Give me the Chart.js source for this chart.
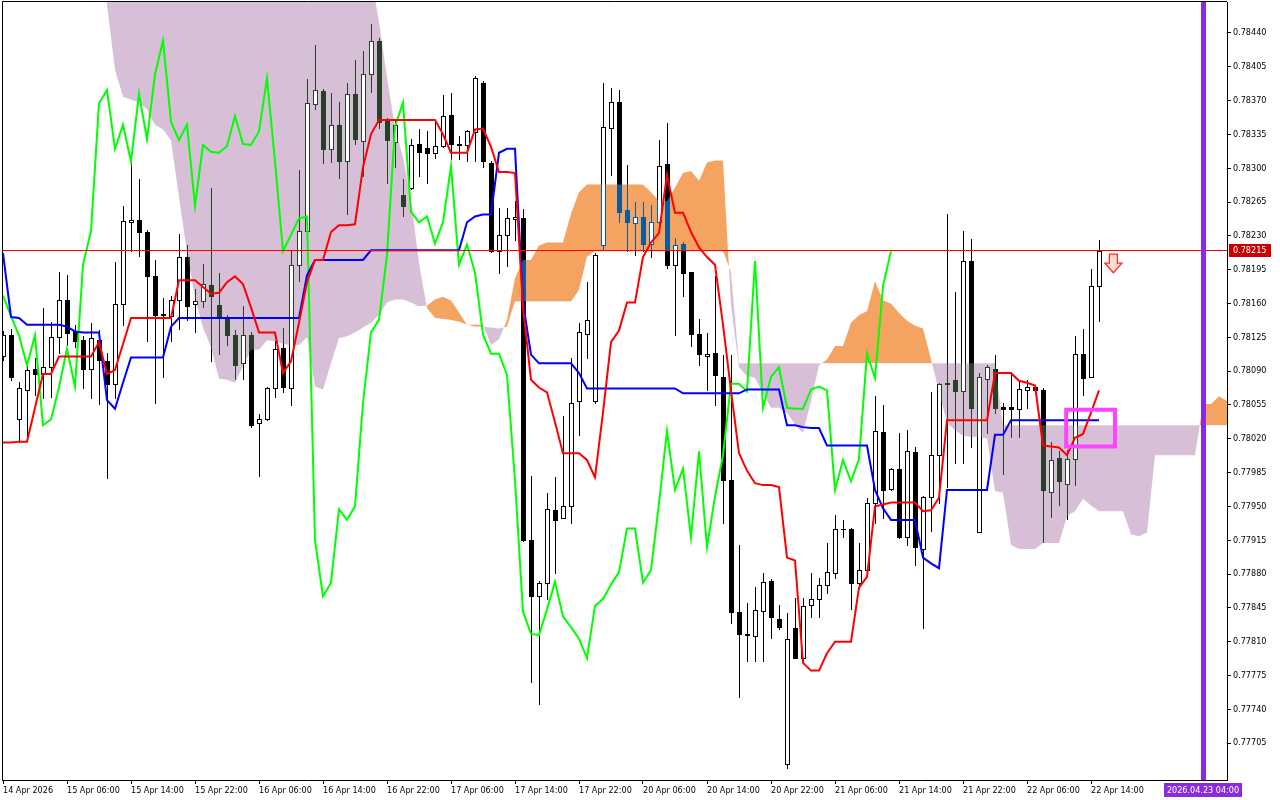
<!DOCTYPE html>
<html>
<head>
<meta charset="utf-8">
<title>AUDUSD-like H1 Ichimoku</title>
<script src="https://cdn.jsdelivr.net/npm/chart.js@4.4.1/dist/chart.umd.min.js"></script>
<style>
  html, body { margin: 0; padding: 0; background: #fff; }
  #wrap { width: 1280px; height: 800px; }
</style>
</head>
<body>
<div id="wrap"><canvas id="chart" width="1280" height="800"></canvas></div>
<script>
// ── Price bars (H1), bar 0 = 14 Apr 22:00 ────────────────────────────────
const opens = [
  0.78106,0.78127,0.78040,0.78070,0.78092,0.78087,0.78094,0.78125,0.78164,0.78131,
  0.78122,0.78092,0.78122,0.78100,0.78077,0.78159,0.78244,0.78246,0.78234,0.78188,
  0.78148,0.78147,0.78164,0.78208,0.78159,0.78163,0.78179,0.78158,0.78144,0.78127,
  0.78098,0.78127,0.78036,0.78040,0.78073,0.78114,0.78073,0.78200,0.78235,0.78366,
  0.78380,0.78320,0.78345,0.78307,0.78377,0.78328,0.78397,0.78432,0.78349,0.78327,
  0.78272,0.78280,0.78325,0.78321,0.78316,0.78323,0.78355,0.78325,0.78324,0.78337,
  0.78388,0.78305,0.78214,0.78231,0.78247,0.78248,0.77915,0.77857,0.77871,0.77946,
  0.77938,0.77950,0.78059,0.78128,0.78059,0.78221,0.78342,0.78368,0.78257,0.78243,
  0.78250,0.78222,0.78244,0.78304,0.78200,0.78222,0.78193,0.78128,0.78106,0.78109,
  0.78084,0.77977,0.77841,0.77818,0.77816,0.77842,0.77873,0.77833,0.77683,0.77824,
  0.77793,0.77848,0.77854,0.77869,0.77881,0.77927,0.77927,0.77871,0.77884,0.77953,
  0.78027,0.77968,0.77989,0.77918,0.78006,0.77906,0.77960,0.78003,0.78078,0.78081,
  0.78069,0.78204,0.77923,0.78082,0.78092,0.78053,0.78053,0.78051,0.78070,0.78074,
  0.78070,0.77965,0.78000,0.77973,0.77999,0.78108,0.78084,0.78178
];
const highs = [
  0.78132,0.78134,0.78079,0.78098,0.78104,0.78155,0.78141,0.78193,0.78189,0.78138,
  0.78126,0.78140,0.78133,0.78109,0.78203,0.78261,0.78307,0.78289,0.78236,0.78205,
  0.78166,0.78168,0.78232,0.78220,0.78175,0.78201,0.78279,0.78192,0.78148,0.78133,
  0.78157,0.78130,0.78046,0.78074,0.78121,0.78135,0.78214,0.78298,0.78392,0.78428,
  0.78382,0.78378,0.78369,0.78388,0.78412,0.78421,0.78449,0.78435,0.78352,0.78349,
  0.78289,0.78330,0.78341,0.78338,0.78348,0.78376,0.78378,0.78333,0.78340,0.78395,
  0.78390,0.78307,0.78259,0.78259,0.78266,0.78258,0.77981,0.77873,0.77964,0.77980,
  0.78044,0.78104,0.78140,0.78182,0.78212,0.78388,0.78383,0.78381,0.78303,0.78265,
  0.78265,0.78262,0.78329,0.78347,0.78228,0.78224,0.78193,0.78144,0.78129,0.78188,
  0.78107,0.78107,0.77910,0.77850,0.77867,0.77881,0.77875,0.77848,0.77840,0.77855,
  0.77855,0.77881,0.77876,0.77912,0.77941,0.77936,0.77928,0.77912,0.77959,0.78064,
  0.78055,0.77990,0.78026,0.78029,0.78011,0.77961,0.78068,0.78078,0.78253,0.78172,
  0.78235,0.78227,0.78088,0.78096,0.78107,0.78057,0.78089,0.78079,0.78081,0.78075,
  0.78072,0.78017,0.78007,0.78008,0.78126,0.78134,0.78196,0.78226
];
const lows = [
  0.78101,0.78081,0.78017,0.78021,0.78065,0.78062,0.78063,0.78109,0.78117,0.78115,
  0.78073,0.78062,0.78056,0.77979,0.78062,0.78138,0.78214,0.78209,0.78121,0.78057,
  0.78084,0.78121,0.78134,0.78143,0.78130,0.78156,0.78100,0.78108,0.78117,0.78082,
  0.78082,0.78032,0.77981,0.78039,0.78063,0.78068,0.78055,0.78183,0.78228,0.78361,
  0.78305,0.78306,0.78290,0.78253,0.78325,0.78292,0.78379,0.78342,0.78285,0.78301,
  0.78251,0.78278,0.78292,0.78285,0.78311,0.78322,0.78310,0.78310,0.78307,0.78307,
  0.78301,0.78213,0.78192,0.78199,0.78226,0.77914,0.77768,0.77745,0.77854,0.77881,
  0.77938,0.77933,0.78024,0.78104,0.78057,0.78215,0.78293,0.78244,0.78214,0.78210,
  0.78214,0.78208,0.78239,0.78197,0.78127,0.78168,0.78116,0.78096,0.78070,0.78055,
  0.77933,0.77829,0.77753,0.77790,0.77790,0.77790,0.77814,0.77823,0.77679,0.77793,
  0.77789,0.77835,0.77835,0.77860,0.77876,0.77918,0.77844,0.77866,0.77882,0.77933,
  0.77938,0.77967,0.77917,0.77910,0.77889,0.77824,0.77924,0.77954,0.77970,0.77995,
  0.77995,0.78011,0.77923,0.78026,0.78047,0.77984,0.78022,0.78022,0.78052,0.78069,
  0.77913,0.77939,0.77951,0.77937,0.77972,0.78065,0.78084,0.78142
];
const closes = [
  0.78127,0.78084,0.78072,0.78091,0.78087,0.78094,0.78125,0.78164,0.78129,0.78121,
  0.78092,0.78124,0.78101,0.78077,0.78159,0.78245,0.78246,0.78234,0.78188,0.78148,
  0.78149,0.78164,0.78208,0.78157,0.78163,0.78180,0.78168,0.78147,0.78127,0.78096,
  0.78127,0.78034,0.78040,0.78073,0.78113,0.78074,0.78200,0.78235,0.78367,0.78381,
  0.78320,0.78345,0.78307,0.78377,0.78330,0.78397,0.78432,0.78348,0.78329,0.78345,
  0.78261,0.78324,0.78317,0.78316,0.78323,0.78354,0.78325,0.78324,0.78338,0.78393,
  0.78307,0.78214,0.78231,0.78248,0.78250,0.77915,0.77857,0.77871,0.77947,0.77936,
  0.77950,0.78057,0.78130,0.78143,0.78210,0.78343,0.78368,0.78255,0.78244,0.78250,
  0.78222,0.78244,0.78302,0.78200,0.78221,0.78192,0.78128,0.78108,0.78108,0.78086,
  0.77977,0.77841,0.77818,0.77817,0.77843,0.77872,0.77836,0.77825,0.77813,0.77793,
  0.77847,0.77854,0.77869,0.77882,0.77927,0.77927,0.77871,0.77884,0.77953,0.78028,
  0.77967,0.77989,0.77918,0.78007,0.77908,0.77960,0.78003,0.78077,0.78077,0.78069,
  0.78204,0.78052,0.78084,0.78094,0.78052,0.78051,0.78051,0.78071,0.78074,0.78070,
  0.77967,0.77998,0.77976,0.77999,0.78108,0.78083,0.78178,0.78214
];

// ── Ichimoku lines ────────────────────────────────────────────────────────
const tenkan = [
  0.78016,0.78016,0.78017,0.78017,0.78052,0.78087,0.78087,0.78105,0.78105,0.78105,
  0.78105,0.78105,0.78120,0.78087,0.78091,0.78118,0.78145,0.78145,0.78145,0.78145,
  0.78145,0.78145,0.78184,0.78184,0.78184,0.78177,0.78170,0.78171,0.78182,0.78188,
  0.78180,0.78156,0.78130,0.78130,0.78130,0.78088,0.78100,0.78140,0.78182,0.78205,
  0.78205,0.78234,0.78241,0.78241,0.78242,0.78301,0.78335,0.78350,0.78350,0.78350,
  0.78350,0.78350,0.78350,0.78350,0.78350,0.78335,0.78316,0.78316,0.78316,0.78340,
  0.78341,0.78322,0.78296,0.78296,0.78295,0.78156,0.78081,0.78073,0.78068,0.78037,
  0.78005,0.78005,0.78005,0.77998,0.77980,0.78047,0.78120,0.78132,0.78161,0.78161,
  0.78208,0.78223,0.78233,0.78293,0.78254,0.78254,0.78234,0.78218,0.78208,0.78200,
  0.78138,0.78070,0.78005,0.77987,0.77974,0.77972,0.77972,0.77970,0.77897,0.77894,
  0.77788,0.77780,0.77780,0.77798,0.77810,0.77810,0.77810,0.77866,0.77877,0.77950,
  0.77952,0.77954,0.77954,0.77954,0.77954,0.77945,0.77946,0.77959,0.78039,0.78039,
  0.78039,0.78039,0.78039,0.78039,0.78088,0.78088,0.78088,0.78080,0.78078,0.78075,
  0.78013,0.78012,0.78011,0.78003,0.78021,0.78025,0.78047,0.78070
];
const kijun = [
  0.78212,0.78146,0.78145,0.78138,0.78138,0.78138,0.78138,0.78138,0.78136,0.78131,
  0.78130,0.78130,0.78130,0.78060,0.78051,0.78078,0.78104,0.78104,0.78104,0.78104,
  0.78104,0.78136,0.78145,0.78145,0.78145,0.78145,0.78145,0.78145,0.78145,0.78145,
  0.78145,0.78145,0.78145,0.78145,0.78145,0.78145,0.78145,0.78145,0.78189,0.78205,
  0.78205,0.78205,0.78205,0.78205,0.78205,0.78205,0.78215,0.78215,0.78215,0.78215,
  0.78215,0.78215,0.78215,0.78215,0.78215,0.78215,0.78215,0.78215,0.78244,0.78250,
  0.78252,0.78252,0.78316,0.78320,0.78320,0.78161,0.78107,0.78098,0.78098,0.78098,
  0.78098,0.78098,0.78088,0.78072,0.78072,0.78072,0.78072,0.78072,0.78072,0.78072,
  0.78072,0.78072,0.78072,0.78072,0.78072,0.78067,0.78067,0.78067,0.78067,0.78067,
  0.78067,0.78067,0.78067,0.78071,0.78071,0.78071,0.78071,0.78071,0.78034,0.78034,
  0.78032,0.78031,0.78031,0.78013,0.78013,0.78013,0.78013,0.78013,0.78013,0.77967,
  0.77948,0.77936,0.77936,0.77936,0.77936,0.77897,0.77891,0.77886,0.77967,0.77967,
  0.77967,0.77967,0.77967,0.77967,0.78024,0.78024,0.78039,0.78039,0.78039,0.78039,
  0.78039,0.78039,0.78039,0.78039,0.78039,0.78039,0.78039,0.78039
];
// lagging span, starts at bar 0
const chikou = [
  0.78168,0.78147,0.78127,0.78096,0.78127,0.78034,0.78040,0.78073,0.78113,0.78074,
  0.78200,0.78235,0.78367,0.78381,0.78320,0.78345,0.78307,0.78377,0.78330,0.78397,
  0.78432,0.78348,0.78329,0.78345,0.78261,0.78324,0.78317,0.78316,0.78323,0.78354,
  0.78325,0.78324,0.78338,0.78393,0.78307,0.78214,0.78231,0.78248,0.78250,0.77915,
  0.77857,0.77871,0.77947,0.77936,0.77950,0.78057,0.78130,0.78143,0.78210,0.78343,
  0.78368,0.78255,0.78244,0.78250,0.78222,0.78244,0.78302,0.78200,0.78221,0.78192,
  0.78128,0.78108,0.78108,0.78086,0.77977,0.77841,0.77818,0.77817,0.77843,0.77872,
  0.77836,0.77825,0.77813,0.77793,0.77847,0.77854,0.77869,0.77882,0.77927,0.77927,
  0.77871,0.77884,0.77953,0.78028,0.77967,0.77989,0.77918,0.78007,0.77908,0.77960,
  0.78003,0.78077,0.78077,0.78069,0.78204,0.78052,0.78084,0.78094,0.78052,0.78051,
  0.78051,0.78071,0.78074,0.78070,0.77967,0.77998,0.77976,0.77999,0.78108,0.78083,
  0.78178,0.78214
];
// cloud edges, bars 0..153 (null = off the left of the cloud)
const spanA = [
  null,null,null,null,null,null,null,null,null,null,
  null,null,null,0.78469,0.78402,0.78374,0.78371,0.78368,0.78361,0.78345,
  0.78340,0.78329,0.78270,0.78213,0.78166,0.78135,0.78115,0.78082,0.78081,0.78078,
  0.78095,0.78112,0.78112,0.78122,0.78121,0.78118,0.78117,0.78117,0.78125,0.78074,
  0.78071,0.78098,0.78124,0.78126,0.78130,0.78135,0.78140,0.78148,0.78161,0.78164,
  0.78164,0.78161,0.78157,0.78158,0.78164,0.78167,0.78163,0.78151,0.78138,0.78138,
  0.78138,0.78117,0.78123,0.78143,0.78186,0.78205,0.78205,0.78220,0.78223,0.78223,
  0.78223,0.78253,0.78275,0.78283,0.78283,0.78283,0.78283,0.78283,0.78283,0.78283,
  0.78283,0.78275,0.78266,0.78266,0.78280,0.78295,0.78297,0.78287,0.78306,0.78308,
  0.78308,0.78158,0.78094,0.78085,0.78083,0.78067,0.78052,0.78052,0.78047,0.78035,
  0.78026,0.78059,0.78096,0.78102,0.78116,0.78116,0.78140,0.78148,0.78152,0.78183,
  0.78163,0.78160,0.78150,0.78142,0.78137,0.78134,0.78102,0.78069,0.78036,0.78029,
  0.78023,0.78022,0.78022,0.78020,0.77966,0.77964,0.77910,0.77906,0.77906,0.77906,
  0.77912,0.77912,0.77912,0.77940,0.77945,0.77958,0.77951,0.77945,0.77945,0.77945,
  0.77945,0.77921,0.77919,0.77923,0.78003,0.78003,0.78003,0.78003,0.78003,0.78003,
  0.78056,0.78056,0.78064,0.78059
];
const spanB = [
  null,null,null,null,null,null,null,null,null,null,
  null,null,null,0.78500,0.78500,0.78500,0.78500,0.78500,0.78500,0.78500,
  0.78500,0.78500,0.78500,0.78500,0.78500,0.78500,0.78500,0.78500,0.78500,0.78500,
  0.78500,0.78500,0.78500,0.78500,0.78500,0.78500,0.78500,0.78500,0.78500,0.78500,
  0.78500,0.78500,0.78500,0.78500,0.78500,0.78500,0.78500,0.78451,0.78394,0.78342,
  0.78311,0.78267,0.78202,0.78155,0.78145,0.78144,0.78143,0.78141,0.78138,0.78136,
  0.78136,0.78135,0.78134,0.78136,0.78162,0.78162,0.78162,0.78162,0.78162,0.78162,
  0.78162,0.78162,0.78174,0.78208,0.78214,0.78214,0.78214,0.78214,0.78214,0.78214,
  0.78214,0.78214,0.78214,0.78214,0.78214,0.78214,0.78214,0.78214,0.78214,0.78214,
  0.78214,0.78192,0.78098,0.78098,0.78098,0.78098,0.78098,0.78098,0.78098,0.78098,
  0.78098,0.78098,0.78098,0.78098,0.78098,0.78098,0.78098,0.78098,0.78098,0.78098,
  0.78098,0.78098,0.78098,0.78098,0.78098,0.78098,0.78098,0.78098,0.78098,0.78098,
  0.78098,0.78098,0.78098,0.78098,0.78098,0.78034,0.78034,0.78034,0.78034,0.78034,
  0.78034,0.78034,0.78034,0.78034,0.78034,0.78034,0.78034,0.78034,0.78034,0.78034,
  0.78034,0.78034,0.78034,0.78034,0.78034,0.78034,0.78034,0.78034,0.78034,0.78034,
  0.78034,0.78034,0.78034,0.78034
];

// ── Axis labels ───────────────────────────────────────────────────────────
const priceTicks = [
  0.78440,0.78405,0.78370,0.78335,0.78300,0.78265,0.78230,0.78195,0.78160,0.78125,0.78090,
  0.78055,0.78020,0.77985,0.77950,0.77915,0.77880,0.77845,0.77810,0.77775,0.77740,0.77705
];
const timeTickBars = [0,8,16,24,32,40,48,56,64,72,80,88,96,104,112,120,128,136];
const timeTickLabels = [
  '14 Apr 2026','15 Apr 06:00','15 Apr 14:00','15 Apr 22:00','16 Apr 06:00','16 Apr 14:00',
  '16 Apr 22:00','17 Apr 06:00','17 Apr 14:00','17 Apr 22:00','20 Apr 06:00','20 Apr 14:00',
  '20 Apr 22:00','21 Apr 06:00','21 Apr 14:00','21 Apr 22:00','22 Apr 06:00','22 Apr 14:00'
];

// ── Chart objects ─────────────────────────────────────────────────────────
const bidPrice = 0.78215;
const futureBar = 150;
const futureLabel = '2026.04.23 04:00';
const zoneBox = { fromBar: 132.9, toBar: 139.0, top: 0.78050, bottom: 0.78012 };
const sellArrow = { bar: 138.8, price: 0.78211 };

const FONT = '"DejaVu Sans Condensed", "DejaVu Sans", sans-serif';
const THISTLE = '#d8bfd8';
const SANDY = '#f4a460';

const pts = arr => arr.map((v, i) => ({ x: i, y: v }));

// ── Drawing helpers ───────────────────────────────────────────────────────
function clipArea(ctx, a) {
  ctx.beginPath();
  ctx.rect(a.left, a.top, a.right - a.left, a.bottom - a.top);
  ctx.clip();
}

function drawCandles(chart) {
  const { ctx, chartArea: a, scales: { x, y } } = chart;
  ctx.save();
  clipArea(ctx, a);
  // MT draws bar outlines inverted over the cloud
  ctx.globalCompositeOperation = 'difference';
  ctx.fillStyle = '#ffffff';
  const bullFill = [];
  for (let i = 0; i < closes.length; i++) {
    const cx = Math.round(x.getPixelForValue(i));
    const yo = Math.round(y.getPixelForValue(opens[i]));
    const yc = Math.round(y.getPixelForValue(closes[i]));
    const yh = Math.round(y.getPixelForValue(highs[i]));
    const yl = Math.round(y.getPixelForValue(lows[i]));
    const top = Math.min(yo, yc), bot = Math.max(yo, yc);
    if (top > yh) ctx.fillRect(cx, yh, 1, top - yh);
    if (yl > bot) ctx.fillRect(cx, bot + 1, 1, yl - bot);
    if (closes[i] > opens[i] && bot - top >= 2) {
      ctx.fillRect(cx - 2, top, 5, 1);
      ctx.fillRect(cx - 2, bot, 5, 1);
      ctx.fillRect(cx - 2, top + 1, 1, bot - top - 1);
      ctx.fillRect(cx + 2, top + 1, 1, bot - top - 1);
      bullFill.push([cx - 1, top + 1, 3, bot - top - 1]);
    } else {
      ctx.fillRect(cx - 2, top, 5, bot - top + 1);
    }
  }
  ctx.globalCompositeOperation = 'source-over';
  ctx.fillStyle = '#ffffff';
  bullFill.forEach(r => ctx.fillRect(r[0], r[1], r[2], r[3]));
  ctx.restore();
}

function drawObjects(chart) {
  const { ctx, chartArea: a, scales: { x, y } } = chart;
  ctx.save();
  clipArea(ctx, a);
  ctx.globalCompositeOperation = 'source-over';

  // bid line
  const yb = Math.round(y.getPixelForValue(bidPrice));
  ctx.fillStyle = '#ff0000';
  ctx.fillRect(a.left, yb, a.right - a.left, 1);

  // zone rectangle
  const x1 = x.getPixelForValue(zoneBox.fromBar), x2 = x.getPixelForValue(zoneBox.toBar);
  const y1 = y.getPixelForValue(zoneBox.top), y2 = y.getPixelForValue(zoneBox.bottom);
  ctx.strokeStyle = '#ff44ff';
  ctx.lineWidth = 4;
  ctx.strokeRect(x1, y1, x2 - x1, y2 - y1);

  // sell arrow
  const ax = x.getPixelForValue(sellArrow.bar), ay = y.getPixelForValue(sellArrow.price);
  ctx.beginPath();
  ctx.moveTo(ax - 4, ay);
  ctx.lineTo(ax + 4, ay);
  ctx.lineTo(ax + 4, ay + 9);
  ctx.lineTo(ax + 8.5, ay + 9);
  ctx.lineTo(ax, ay + 18.5);
  ctx.lineTo(ax - 8.5, ay + 9);
  ctx.lineTo(ax - 4, ay + 9);
  ctx.closePath();
  ctx.fillStyle = '#ffe0d0';
  ctx.fill();
  ctx.strokeStyle = '#ff2a2a';
  ctx.lineWidth = 1.3;
  ctx.stroke();

  // future time marker
  const vx = x.getPixelForValue(futureBar);
  ctx.fillStyle = '#8a2be2';
  ctx.fillRect(Math.round(vx) - 2, a.top, 5, a.bottom - a.top);
  ctx.restore();
}

function drawFrameAndTags(chart) {
  const { ctx, chartArea: a, scales: { x, y } } = chart;
  ctx.save();
  ctx.globalCompositeOperation = 'source-over';
  ctx.strokeStyle = '#000000';
  ctx.lineWidth = 1;
  ctx.beginPath();
  ctx.moveTo(a.left + 0.5, a.bottom);
  ctx.lineTo(a.left + 0.5, a.top - 0.5);
  ctx.lineTo(a.right, a.top - 0.5);
  ctx.stroke();

  // bid price tag
  const yb = Math.round(y.getPixelForValue(bidPrice));
  ctx.fillStyle = '#cc0000';
  ctx.fillRect(a.right + 2, yb - 6, 42, 13);
  ctx.fillStyle = '#ffffff';
  ctx.font = '9px ' + FONT;
  ctx.textBaseline = 'middle';
  ctx.textAlign = 'left';
  ctx.fillText(bidPrice.toFixed(5), a.right + 6, yb + 1);

  // future time tag
  const vx = Math.round(x.getPixelForValue(futureBar));
  ctx.fillStyle = '#8a2be2';
  ctx.fillRect(vx - 39, a.bottom + 3, 78, 14);
  ctx.fillStyle = '#ffffff';
  ctx.textAlign = 'center';
  ctx.fillText(futureLabel, vx, a.bottom + 10.5);
  ctx.restore();
}

const mtPlugin = {
  id: 'mtPlugin',
  beforeDraw(chart) {
    const { ctx, width, height } = chart;
    ctx.save();
    ctx.fillStyle = '#ffffff';
    ctx.fillRect(0, 0, width, height);
    ctx.restore();
  },
  beforeDatasetsDraw(chart) {
    drawCandles(chart);
  },
  afterDatasetsDraw(chart) {
    drawObjects(chart);
  },
  afterDraw(chart) {
    drawFrameAndTags(chart);
  }
};

Chart.defaults.font.family = FONT;
Chart.defaults.color = '#000';

// keep the axes from pushing the plot inward for label overhang
const noOverhang = s => { s.paddingTop = 0; s.paddingBottom = 0; s.paddingLeft = 0; s.paddingRight = 0; };

new Chart(document.getElementById('chart'), {
  type: 'line',
  data: {
    datasets: [
      { label: 'Tenkan-sen', data: pts(tenkan), borderColor: '#ff0000', borderWidth: 2, pointRadius: 0, fill: false },
      { label: 'Kijun-sen', data: pts(kijun), borderColor: '#0000ff', borderWidth: 2, pointRadius: 0, fill: false },
      { label: 'Chikou Span', data: pts(chikou), borderColor: '#00ff00', borderWidth: 2, pointRadius: 0, fill: false },
      { label: 'Senkou Span A', data: pts(spanA), borderWidth: 0, borderColor: 'rgba(0,0,0,0)', pointRadius: 0,
        fill: { target: 4, above: SANDY, below: THISTLE } },
      { label: 'Senkou Span B', data: pts(spanB), borderWidth: 0, borderColor: 'rgba(0,0,0,0)', pointRadius: 0, fill: false }
    ]
  },
  options: {
    responsive: false,
    animation: false,
    devicePixelRatio: 1,
    layout: { padding: { left: 2, top: 2, right: 0, bottom: 0 } },
    plugins: {
      legend: { display: false },
      tooltip: { enabled: false },
      filler: { drawTime: 'beforeDatasetsDraw', propagate: false }
    },
    elements: { line: { tension: 0 } },
    scales: {
      x: {
        type: 'linear',
        position: 'bottom',
        min: -0.125,
        max: 153,
        bounds: 'data',
        grid: { display: true, drawOnChartArea: false, drawTicks: true, tickLength: 4, color: '#000' },
        border: { display: true, color: '#000', width: 1 },
        ticks: {
          autoSkip: false, maxRotation: 0, minRotation: 0, align: 'start', padding: 1,
          font: { size: 9 }, color: '#000',
          callback: (v, i) => timeTickLabels[i]
        },
        afterBuildTicks: s => { s.ticks = timeTickBars.map(v => ({ value: v })); },
        afterFit: s => { s.height = 20; noOverhang(s); }
      },
      y: {
        type: 'linear',
        position: 'right',
        min: 0.776668,
        max: 0.784720,
        bounds: 'data',
        grid: { display: true, drawOnChartArea: false, drawTicks: true, tickLength: 4, color: '#000' },
        border: { display: true, color: '#000', width: 1 },
        ticks: {
          autoSkip: false, padding: 2, font: { size: 9 }, color: '#000',
          callback: v => v.toFixed(5)
        },
        afterBuildTicks: s => { s.ticks = priceTicks.map(v => ({ value: v })); },
        afterFit: s => { s.width = 53; noOverhang(s); }
      }
    }
  },
  plugins: [mtPlugin]
});
</script>
</body>
</html>
